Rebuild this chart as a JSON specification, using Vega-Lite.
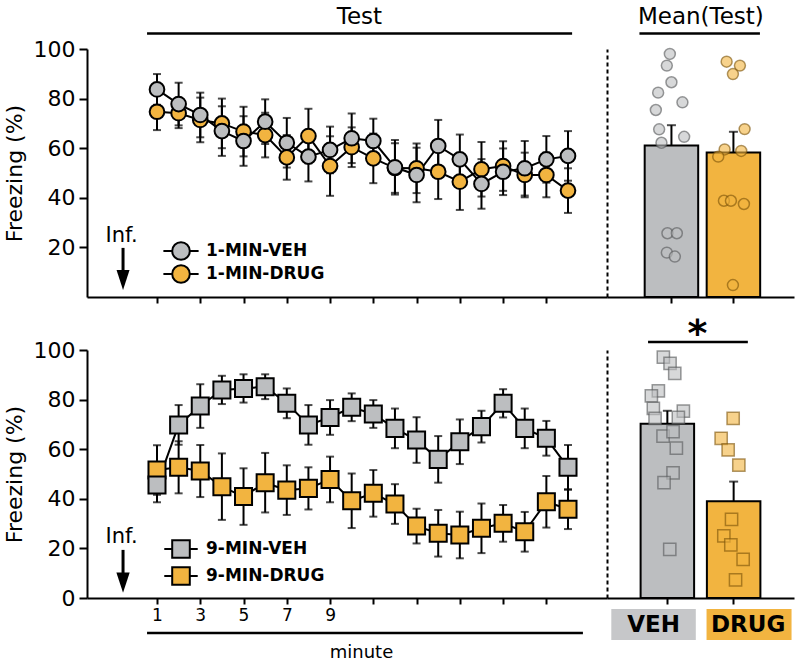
{
  "$schema": "https://vega.github.io/schema/vega-lite/v6.json",
  "padding": {"left": 3, "top": 6, "right": 5, "bottom": 3},
  "config": {
    "view": {"stroke": null},
    "font": "DejaVu Sans",
    "axis": {"domainColor": "black", "tickColor": "black", "labelColor": "black", "titleColor": "black", "domainWidth": 2, "tickWidth": 2, "grid": false, "labelFont": "DejaVu Sans", "titleFont": "DejaVu Sans", "titleFontWeight": "normal", "labelOverlap": false}
  },
  "datasets": {
    "top_series": [
      {"minute": 1, "group": "1-MIN-DRUG", "freezing": 74.7, "sem": 7.4},
      {"minute": 2, "group": "1-MIN-DRUG", "freezing": 74.1, "sem": 6},
      {"minute": 3, "group": "1-MIN-DRUG", "freezing": 71.4, "sem": 9},
      {"minute": 4, "group": "1-MIN-DRUG", "freezing": 70, "sem": 10},
      {"minute": 5, "group": "1-MIN-DRUG", "freezing": 66.7, "sem": 10},
      {"minute": 6, "group": "1-MIN-DRUG", "freezing": 65.3, "sem": 9},
      {"minute": 7, "group": "1-MIN-DRUG", "freezing": 56.3, "sem": 9},
      {"minute": 8, "group": "1-MIN-DRUG", "freezing": 64.9, "sem": 11},
      {"minute": 9, "group": "1-MIN-DRUG", "freezing": 52.8, "sem": 12},
      {"minute": 10, "group": "1-MIN-DRUG", "freezing": 60.4, "sem": 8},
      {"minute": 11, "group": "1-MIN-DRUG", "freezing": 55.9, "sem": 10},
      {"minute": 12, "group": "1-MIN-DRUG", "freezing": 52, "sem": 10},
      {"minute": 13, "group": "1-MIN-DRUG", "freezing": 51.9, "sem": 10},
      {"minute": 14, "group": "1-MIN-DRUG", "freezing": 50.5, "sem": 11},
      {"minute": 15, "group": "1-MIN-DRUG", "freezing": 46.5, "sem": 11.4},
      {"minute": 16, "group": "1-MIN-DRUG", "freezing": 51.5, "sem": 11},
      {"minute": 17, "group": "1-MIN-DRUG", "freezing": 52.8, "sem": 10},
      {"minute": 18, "group": "1-MIN-DRUG", "freezing": 49.2, "sem": 9},
      {"minute": 19, "group": "1-MIN-DRUG", "freezing": 49.2, "sem": 9},
      {"minute": 20, "group": "1-MIN-DRUG", "freezing": 42.9, "sem": 9},
      {"minute": 1, "group": "1-MIN-VEH", "freezing": 83.7, "sem": 6.2},
      {"minute": 2, "group": "1-MIN-VEH", "freezing": 77.8, "sem": 8.6},
      {"minute": 3, "group": "1-MIN-VEH", "freezing": 73.4, "sem": 9},
      {"minute": 4, "group": "1-MIN-VEH", "freezing": 66.9, "sem": 10},
      {"minute": 5, "group": "1-MIN-VEH", "freezing": 62.9, "sem": 10},
      {"minute": 6, "group": "1-MIN-VEH", "freezing": 70.7, "sem": 9},
      {"minute": 7, "group": "1-MIN-VEH", "freezing": 62.2, "sem": 10},
      {"minute": 8, "group": "1-MIN-VEH", "freezing": 56.6, "sem": 10},
      {"minute": 9, "group": "1-MIN-VEH", "freezing": 59.3, "sem": 9.4},
      {"minute": 10, "group": "1-MIN-VEH", "freezing": 64.0, "sem": 10},
      {"minute": 11, "group": "1-MIN-VEH", "freezing": 62.9, "sem": 9},
      {"minute": 12, "group": "1-MIN-VEH", "freezing": 52.3, "sem": 11},
      {"minute": 13, "group": "1-MIN-VEH", "freezing": 49.2, "sem": 11},
      {"minute": 14, "group": "1-MIN-VEH", "freezing": 60.9, "sem": 10.5},
      {"minute": 15, "group": "1-MIN-VEH", "freezing": 55.5, "sem": 10},
      {"minute": 16, "group": "1-MIN-VEH", "freezing": 45.6, "sem": 10},
      {"minute": 17, "group": "1-MIN-VEH", "freezing": 50.5, "sem": 9.4},
      {"minute": 18, "group": "1-MIN-VEH", "freezing": 51.9, "sem": 11},
      {"minute": 19, "group": "1-MIN-VEH", "freezing": 55.5, "sem": 9.4},
      {"minute": 20, "group": "1-MIN-VEH", "freezing": 56.9, "sem": 10}
    ],
    "bottom_series": [
      {"minute": 1, "group": "9-MIN-DRUG", "freezing": 51.6, "sem": 10},
      {"minute": 2, "group": "9-MIN-DRUG", "freezing": 52.7, "sem": 10.5},
      {"minute": 3, "group": "9-MIN-DRUG", "freezing": 51.2, "sem": 10.5},
      {"minute": 4, "group": "9-MIN-DRUG", "freezing": 44.9, "sem": 13.4},
      {"minute": 5, "group": "9-MIN-DRUG", "freezing": 40.9, "sem": 11.4},
      {"minute": 6, "group": "9-MIN-DRUG", "freezing": 46.5, "sem": 12},
      {"minute": 7, "group": "9-MIN-DRUG", "freezing": 43.5, "sem": 10},
      {"minute": 8, "group": "9-MIN-DRUG", "freezing": 44.2, "sem": 8.5},
      {"minute": 9, "group": "9-MIN-DRUG", "freezing": 47.8, "sem": 9.2},
      {"minute": 10, "group": "9-MIN-DRUG", "freezing": 39.2, "sem": 11},
      {"minute": 11, "group": "9-MIN-DRUG", "freezing": 42.2, "sem": 9.4},
      {"minute": 12, "group": "9-MIN-DRUG", "freezing": 37.9, "sem": 8},
      {"minute": 13, "group": "9-MIN-DRUG", "freezing": 29, "sem": 7},
      {"minute": 14, "group": "9-MIN-DRUG", "freezing": 26.1, "sem": 9.4},
      {"minute": 15, "group": "9-MIN-DRUG", "freezing": 25.4, "sem": 9.4},
      {"minute": 16, "group": "9-MIN-DRUG", "freezing": 28.1, "sem": 10},
      {"minute": 17, "group": "9-MIN-DRUG", "freezing": 30.1, "sem": 7.4},
      {"minute": 18, "group": "9-MIN-DRUG", "freezing": 26.7, "sem": 8},
      {"minute": 19, "group": "9-MIN-DRUG", "freezing": 38.8, "sem": 10.4},
      {"minute": 20, "group": "9-MIN-DRUG", "freezing": 35.8, "sem": 8},
      {"minute": 1, "group": "9-MIN-VEH", "freezing": 45.6, "sem": 7},
      {"minute": 2, "group": "9-MIN-VEH", "freezing": 69.8, "sem": 8},
      {"minute": 3, "group": "9-MIN-VEH", "freezing": 77.4, "sem": 8.8},
      {"minute": 4, "group": "9-MIN-VEH", "freezing": 83.9, "sem": 5.7},
      {"minute": 5, "group": "9-MIN-VEH", "freezing": 84.5, "sem": 5.7},
      {"minute": 6, "group": "9-MIN-VEH", "freezing": 85.2, "sem": 5},
      {"minute": 7, "group": "9-MIN-VEH", "freezing": 78.5, "sem": 6},
      {"minute": 8, "group": "9-MIN-VEH", "freezing": 69.8, "sem": 8},
      {"minute": 9, "group": "9-MIN-VEH", "freezing": 72.8, "sem": 7},
      {"minute": 10, "group": "9-MIN-VEH", "freezing": 76.9, "sem": 5.6},
      {"minute": 11, "group": "9-MIN-VEH", "freezing": 74.2, "sem": 5.6},
      {"minute": 12, "group": "9-MIN-VEH", "freezing": 68.4, "sem": 8},
      {"minute": 13, "group": "9-MIN-VEH", "freezing": 63.7, "sem": 9.2},
      {"minute": 14, "group": "9-MIN-VEH", "freezing": 55.9, "sem": 9.4},
      {"minute": 15, "group": "9-MIN-VEH", "freezing": 63, "sem": 9},
      {"minute": 16, "group": "9-MIN-VEH", "freezing": 69.1, "sem": 6.4},
      {"minute": 17, "group": "9-MIN-VEH", "freezing": 78.5, "sem": 5.7},
      {"minute": 18, "group": "9-MIN-VEH", "freezing": 68.4, "sem": 8},
      {"minute": 19, "group": "9-MIN-VEH", "freezing": 64.4, "sem": 7},
      {"minute": 20, "group": "9-MIN-VEH", "freezing": 52.7, "sem": 9}
    ],
    "top_points": [
      {"cond": "VEH", "freezing": 98.0, "jitter": -1.6},
      {"cond": "VEH", "freezing": 93.3, "jitter": -4.6},
      {"cond": "VEH", "freezing": 86.6, "jitter": 0},
      {"cond": "VEH", "freezing": 82.4, "jitter": -13.3},
      {"cond": "VEH", "freezing": 78.5, "jitter": 11},
      {"cond": "VEH", "freezing": 75.4, "jitter": -15.6},
      {"cond": "VEH", "freezing": 67.6, "jitter": -12.3},
      {"cond": "VEH", "freezing": 64.6, "jitter": 12.7},
      {"cond": "VEH", "freezing": 62.2, "jitter": -10},
      {"cond": "VEH", "freezing": 25.7, "jitter": -4},
      {"cond": "VEH", "freezing": 25.7, "jitter": 5.4},
      {"cond": "VEH", "freezing": 17.9, "jitter": -4.6},
      {"cond": "VEH", "freezing": 16.3, "jitter": 3.4},
      {"cond": "DRUG", "freezing": 94.9, "jitter": -6.8},
      {"cond": "DRUG", "freezing": 93.3, "jitter": 6.5},
      {"cond": "DRUG", "freezing": 89.9, "jitter": -0.5},
      {"cond": "DRUG", "freezing": 67.7, "jitter": 11.2},
      {"cond": "DRUG", "freezing": 59.5, "jitter": -8.8},
      {"cond": "DRUG", "freezing": 58.9, "jitter": 7.8},
      {"cond": "DRUG", "freezing": 56.6, "jitter": -15.2},
      {"cond": "DRUG", "freezing": 38.8, "jitter": -9.5},
      {"cond": "DRUG", "freezing": 38.8, "jitter": -2.5},
      {"cond": "DRUG", "freezing": 37.5, "jitter": 10.5},
      {"cond": "DRUG", "freezing": 4.8, "jitter": -0.5}
    ],
    "bottom_points": [
      {"cond": "VEH", "freezing": 97.1, "jitter": -4},
      {"cond": "VEH", "freezing": 94.6, "jitter": 2.7},
      {"cond": "VEH", "freezing": 90.6, "jitter": 7.4},
      {"cond": "VEH", "freezing": 83.5, "jitter": -9},
      {"cond": "VEH", "freezing": 81.5, "jitter": -16},
      {"cond": "VEH", "freezing": 76.5, "jitter": -14},
      {"cond": "VEH", "freezing": 75.4, "jitter": 16},
      {"cond": "VEH", "freezing": 72.4, "jitter": -12.3},
      {"cond": "VEH", "freezing": 72.8, "jitter": 11},
      {"cond": "VEH", "freezing": 65.3, "jitter": -4.3},
      {"cond": "VEH", "freezing": 67.1, "jitter": 5.7},
      {"cond": "VEH", "freezing": 60.4, "jitter": 9},
      {"cond": "VEH", "freezing": 50.5, "jitter": 5.7},
      {"cond": "VEH", "freezing": 46.5, "jitter": -3.3},
      {"cond": "VEH", "freezing": 19.6, "jitter": 2.4},
      {"cond": "DRUG", "freezing": 72.4, "jitter": -0.5},
      {"cond": "DRUG", "freezing": 64.4, "jitter": -12.5},
      {"cond": "DRUG", "freezing": 59.7, "jitter": -5.5},
      {"cond": "DRUG", "freezing": 53.6, "jitter": 5.2},
      {"cond": "DRUG", "freezing": 31.7, "jitter": -2.1},
      {"cond": "DRUG", "freezing": 25.1, "jitter": -9.8},
      {"cond": "DRUG", "freezing": 21.4, "jitter": -2.8},
      {"cond": "DRUG", "freezing": 15.6, "jitter": 9.5},
      {"cond": "DRUG", "freezing": 7.3, "jitter": 1.9}
    ],
    "anno": [{"a": 1}]
  },
  "columns": 2,
  "spacing": {"row": 53, "column": 0},
  "bounds": "flush",
  "resolve": {"scale": {"x": "independent", "y": "independent", "fill": "independent", "stroke": "independent", "xOffset": "independent"}},
  "concat": [
    {
      "width": 520,
      "height": 248,
      "layer": [
        {"data": {"name": "top_series"},
         "mark": {"type": "line", "color": "black", "strokeWidth": 2},
         "encoding": {
           "x": {"field": "minute", "type": "quantitative", "title": null, "scale": {"domain": [-2.236, 21.803], "nice": false, "zero": false},
                 "axis": {"values": [1,2,3,4,5,6,7,8,9,10,11,12,13,14,15,16,17,18,19,20], "labels": false, "tickSize": 6, "title": null}},
           "y": {"field": "freezing", "type": "quantitative", "title": "Freezing (%)", "scale": {"domain": [0, 100], "nice": false},
                 "axis": {"values": [20, 40, 60, 80, 100], "title": "Freezing (%)", "tickSize": 8, "labelFontSize": 22, "labelPadding": 4, "titleFontSize": 22, "titlePadding": 7}},
           "detail": {"field": "group"}}},
        {"data": {"name": "top_series"},
         "mark": {"type": "errorbar", "color": "black", "ticks": {"size": 8, "thickness": 2, "color": "black"}, "rule": {"strokeWidth": 2, "color": "black"}},
         "encoding": {"x": {"field": "minute", "type": "quantitative", "title": null}, "y": {"field": "freezing", "type": "quantitative", "title": "Freezing (%)"}, "yError": {"field": "sem"}}},
        {"data": {"name": "top_series"},
         "mark": {"type": "point", "shape": "circle", "filled": true, "size": 215, "stroke": "black", "strokeWidth": 2, "opacity": 1},
         "encoding": {"x": {"field": "minute", "type": "quantitative", "title": null}, "y": {"field": "freezing", "type": "quantitative", "title": "Freezing (%)"},
           "fill": {"field": "group", "type": "nominal",
           "scale": {"domain": ["1-MIN-VEH", "1-MIN-DRUG"], "range": ["#bcbec0", "#f2b440"]},
           "legend": {"orient": "none", "legendX": 84, "legendY": 192, "title": null,
             "symbolType": "M-2,0H-1A1,1,0,1,1,1,0H2M1,0A1,1,0,1,1,-1,0", "symbolSize": 310,
             "symbolStrokeColor": "black", "symbolStrokeWidth": 2, "symbolOpacity": 1,
             "labelFont": "DejaVu Sans", "labelFontWeight": "bold", "labelFontSize": 17, "labelColor": "black",
             "labelOffset": 15, "rowPadding": -9}}}},
        {"data": {"name": "anno"}, "mark": {"type": "text", "text": "Inf.", "fontSize": 21, "baseline": "middle", "color": "black"},
         "encoding": {"x": {"datum": -0.64, "type": "quantitative"}, "y": {"datum": 24.4, "type": "quantitative"}}},
        {"data": {"name": "anno"}, "mark": {"type": "rule", "strokeWidth": 3, "color": "black"},
         "encoding": {"x": {"datum": -0.57, "type": "quantitative"}, "y": {"datum": 19.8, "type": "quantitative"}, "y2": {"datum": 8.9}}},
        {"data": {"name": "anno"}, "mark": {"type": "point", "shape": "M-0.65,-1L0.65,-1L0,1Z", "filled": true, "color": "black", "size": 400, "opacity": 1},
         "encoding": {"x": {"datum": -0.57, "type": "quantitative"}, "y": {"datum": 6.9, "type": "quantitative"}}},
        {"data": {"name": "anno"}, "mark": {"type": "text", "text": "Test", "fontSize": 23, "baseline": "middle", "color": "black"},
         "encoding": {"x": {"datum": 10.36, "type": "quantitative"}, "y": {"datum": 112.9, "type": "quantitative"}}},
        {"data": {"name": "anno"}, "mark": {"type": "rule", "strokeWidth": 2.5, "color": "black"},
         "encoding": {"x": {"datum": 0.54, "type": "quantitative"}, "x2": {"datum": 20.19}, "y": {"datum": 106.2, "type": "quantitative"}}}
      ]
    },
    {
      "width": 187,
      "height": 248,
      "layer": [
        {"data": {"name": "top_points"},
         "mark": {"type": "errorbar", "extent": "stderr", "ticks": {"size": 9, "thickness": 2, "color": "black"}, "rule": {"strokeWidth": 2, "color": "black"}},
         "encoding": {
           "x": {"field": "cond", "type": "nominal", "title": null, "scale": {"domain": ["VEH", "DRUG"], "paddingInner": 0.137, "paddingOuter": 0.577, "align": 0.527},
                 "axis": {"labels": false, "title": null, "tickSize": 6}},
           "y": {"field": "freezing", "type": "quantitative", "title": null, "scale": {"domain": [0, 100], "nice": false},
                 "axis": {"labels": false, "ticks": false, "title": null, "domainDash": [4, 3]}}}},
        {"data": {"name": "top_points"},
         "mark": {"type": "bar", "stroke": "black", "strokeWidth": 2, "width": 53.5},
         "encoding": {"x": {"field": "cond", "type": "nominal", "title": null},
           "y": {"aggregate": "mean", "field": "freezing", "type": "quantitative", "title": null},
           "fill": {"field": "cond", "type": "nominal", "scale": {"domain": ["VEH", "DRUG"], "range": ["#bcbec0", "#f2b440"]}, "legend": null}}},
        {"data": {"name": "top_points"},
         "mark": {"type": "point", "shape": "circle", "filled": true, "size": 120, "strokeWidth": 1.5, "fillOpacity": 0.6, "strokeOpacity": 0.6},
         "encoding": {"x": {"field": "cond", "type": "nominal", "title": null}, "y": {"field": "freezing", "type": "quantitative", "title": null},
           "xOffset": {"field": "jitter", "type": "quantitative", "scale": {"domain": [-26.75, 26.75]}},
           "fill": {"field": "cond", "type": "nominal", "legend": null},
           "stroke": {"field": "cond", "type": "nominal", "scale": {"domain": ["VEH", "DRUG"], "range": ["#555658", "#7a5208"]}, "legend": null}}},
        {"data": {"name": "anno"}, "mark": {"type": "text", "text": "Mean(Test)", "fontSize": 23, "baseline": "middle", "xOffset": 29.4, "color": "black"},
         "encoding": {"x": {"datum": "VEH", "type": "nominal"}, "y": {"datum": 112.9, "type": "quantitative"}}},
        {"data": {"name": "anno"}, "mark": {"type": "rule", "strokeWidth": 2.5, "color": "black", "xOffset": -32, "x2Offset": 26.5},
         "encoding": {"x": {"datum": "VEH", "type": "nominal"}, "x2": {"datum": "DRUG"}, "y": {"datum": 106.2, "type": "quantitative"}}}
      ]
    },
    {
      "width": 520,
      "height": 248,
      "resolve": {"axis": {"x": "independent"}},
      "layer": [
        {
          "layer": [
            {"data": {"name": "bottom_series"},
             "mark": {"type": "line", "color": "black", "strokeWidth": 2},
             "encoding": {
               "x": {"field": "minute", "type": "quantitative", "title": "minute", "scale": {"domain": [-2.236, 21.803], "nice": false, "zero": false},
                     "axis": {"values": [1,2,3,4,5,6,7,8,9,10,11,12,13,14,15,16,17,18,19,20], "tickSize": 6,
                              "labelExpr": "datum.value <= 10 || datum.value % 2 == 0 ? datum.label : ''",
                              "labelFontSize": 17, "labelPadding": 3, "labelOverlap": false, "labelFlush": false,
                              "title": "minute", "titleFontSize": 18, "titleX": 274, "titleY": 59, "titleBaseline": "alphabetic"}},
               "y": {"field": "freezing", "type": "quantitative", "title": "Freezing (%)", "scale": {"domain": [0, 100], "nice": false},
                     "axis": {"values": [0, 20, 40, 60, 80, 100], "title": "Freezing (%)", "tickSize": 8, "labelFontSize": 22, "labelPadding": 4, "titleFontSize": 22, "titlePadding": 7}},
               "detail": {"field": "group"}}},
            {"data": {"name": "bottom_series"},
             "mark": {"type": "errorbar", "color": "black", "ticks": {"size": 8, "thickness": 2, "color": "black"}, "rule": {"strokeWidth": 2, "color": "black"}},
             "encoding": {
               "x": {"field": "minute", "type": "quantitative", "title": "minute"},
               "y": {"field": "freezing", "type": "quantitative", "title": "Freezing (%)"}, "yError": {"field": "sem"}}},
            {"data": {"name": "bottom_series"},
             "mark": {"type": "point", "shape": "square", "filled": true, "size": 290, "stroke": "black", "strokeWidth": 2, "opacity": 1},
             "encoding": {
               "x": {"field": "minute", "type": "quantitative", "title": "minute"},
               "y": {"field": "freezing", "type": "quantitative", "title": "Freezing (%)"},
               "fill": {"field": "group", "type": "nominal",
               "scale": {"domain": ["9-MIN-VEH", "9-MIN-DRUG"], "range": ["#bcbec0", "#f2b440"]},
               "legend": {"orient": "none", "legendX": 84, "legendY": 189, "title": null,
                 "symbolType": "M-1.9,0H-1V-1H1V1H-1V0M1,0H1.9", "symbolSize": 310,
                 "symbolStrokeColor": "black", "symbolStrokeWidth": 2, "symbolOpacity": 1,
                 "labelFont": "DejaVu Sans", "labelFontWeight": "bold", "labelFontSize": 17, "labelColor": "black",
                 "labelOffset": 15, "rowPadding": 1}}}}
          ]
        },
        {
          "layer": [
            {"data": {"name": "anno"}, "mark": {"type": "text", "text": "Inf.", "fontSize": 21, "baseline": "middle", "color": "black"},
             "encoding": {"x": {"datum": -0.64, "type": "quantitative", "axis": null}, "y": {"datum": 24.6, "type": "quantitative"}}},
            {"data": {"name": "anno"}, "mark": {"type": "rule", "strokeWidth": 3, "color": "black"},
             "encoding": {"x": {"datum": -0.57, "type": "quantitative", "axis": null}, "y": {"datum": 19.4, "type": "quantitative"}, "y2": {"datum": 8.1}}},
            {"data": {"name": "anno"}, "mark": {"type": "point", "shape": "M-0.65,-1L0.65,-1L0,1Z", "filled": true, "color": "black", "size": 420, "opacity": 1},
             "encoding": {"x": {"datum": -0.57, "type": "quantitative", "axis": null}, "y": {"datum": 6.2, "type": "quantitative"}}},
            {"data": {"name": "anno"}, "mark": {"type": "rule", "strokeWidth": 2.5, "color": "black"},
             "encoding": {"x": {"datum": 0.54, "type": "quantitative", "axis": null}, "x2": {"datum": 20.69}, "y": {"datum": -14.1, "type": "quantitative"}}}
          ]
        }
      ]
    },
    {
      "width": 187,
      "height": 248,
      "layer": [
        {"data": {"name": "bottom_points"},
         "mark": {"type": "errorbar", "extent": "stderr", "ticks": {"size": 9, "thickness": 2, "color": "black"}, "rule": {"strokeWidth": 2, "color": "black"}},
         "encoding": {
           "x": {"field": "cond", "type": "nominal", "title": null, "scale": {"domain": ["VEH", "DRUG"], "paddingInner": 0.193, "paddingOuter": 0.507, "align": 0.5},
                 "axis": {"labels": false, "title": null, "tickSize": 6}},
           "y": {"field": "freezing", "type": "quantitative", "title": null, "scale": {"domain": [0, 100], "nice": false},
                 "axis": {"labels": false, "ticks": false, "title": null, "domainDash": [4, 3]}}}},
        {"data": {"name": "bottom_points"},
         "mark": {"type": "bar", "stroke": "black", "strokeWidth": 2, "width": 53.5},
         "encoding": {"x": {"field": "cond", "type": "nominal", "title": null},
           "y": {"aggregate": "mean", "field": "freezing", "type": "quantitative", "title": null},
           "fill": {"field": "cond", "type": "nominal", "scale": {"domain": ["VEH", "DRUG"], "range": ["#bcbec0", "#f2b440"]}, "legend": null}}},
        {"data": {"name": "bottom_points"},
         "mark": {"type": "point", "shape": "square", "filled": true, "size": 150, "strokeWidth": 1.5, "fillOpacity": 0.6, "strokeOpacity": 0.6},
         "encoding": {"x": {"field": "cond", "type": "nominal", "title": null}, "y": {"field": "freezing", "type": "quantitative", "title": null},
           "xOffset": {"field": "jitter", "type": "quantitative", "scale": {"domain": [-26.75, 26.75]}},
           "fill": {"field": "cond", "type": "nominal", "legend": null},
           "stroke": {"field": "cond", "type": "nominal", "scale": {"domain": ["VEH", "DRUG"], "range": ["#555658", "#7a5208"]}, "legend": null}}},
        {"data": {"name": "anno"}, "mark": {"type": "text", "text": "*", "fontSize": 38, "fontWeight": "bold", "baseline": "middle", "xOffset": 30, "color": "black"},
         "encoding": {"x": {"datum": "VEH", "type": "nominal"}, "y": {"datum": 106, "type": "quantitative"}}},
        {"data": {"name": "anno"}, "mark": {"type": "rule", "strokeWidth": 2.5, "color": "black", "xOffset": -19.3, "x2Offset": 14.2},
         "encoding": {"x": {"datum": "VEH", "type": "nominal"}, "x2": {"datum": "DRUG"}, "y": {"datum": 103.2, "type": "quantitative"}}},
        {"data": {"name": "anno"}, "mark": {"type": "bar", "fill": "#c6c7c9", "width": 84.5, "xOffset": -13.8},
         "encoding": {"x": {"datum": "VEH", "type": "nominal"}, "y": {"datum": -4.4, "type": "quantitative"}, "y2": {"datum": -16.9}}},
        {"data": {"name": "anno"}, "mark": {"type": "bar", "fill": "#f2b440", "width": 85, "xOffset": 15.4},
         "encoding": {"x": {"datum": "DRUG", "type": "nominal"}, "y": {"datum": -4.4, "type": "quantitative"}, "y2": {"datum": -16.9}}},
        {"data": {"name": "anno"}, "mark": {"type": "text", "text": "VEH", "fontSize": 23, "fontWeight": "bold", "baseline": "middle", "xOffset": -13.8, "color": "black"},
         "encoding": {"x": {"datum": "VEH", "type": "nominal"}, "y": {"datum": -10.8, "type": "quantitative"}}},
        {"data": {"name": "anno"}, "mark": {"type": "text", "text": "DRUG", "fontSize": 23, "fontWeight": "bold", "baseline": "middle", "xOffset": 14.5, "color": "black"},
         "encoding": {"x": {"datum": "DRUG", "type": "nominal"}, "y": {"datum": -10.8, "type": "quantitative"}}}
      ]
    }
  ]
}
